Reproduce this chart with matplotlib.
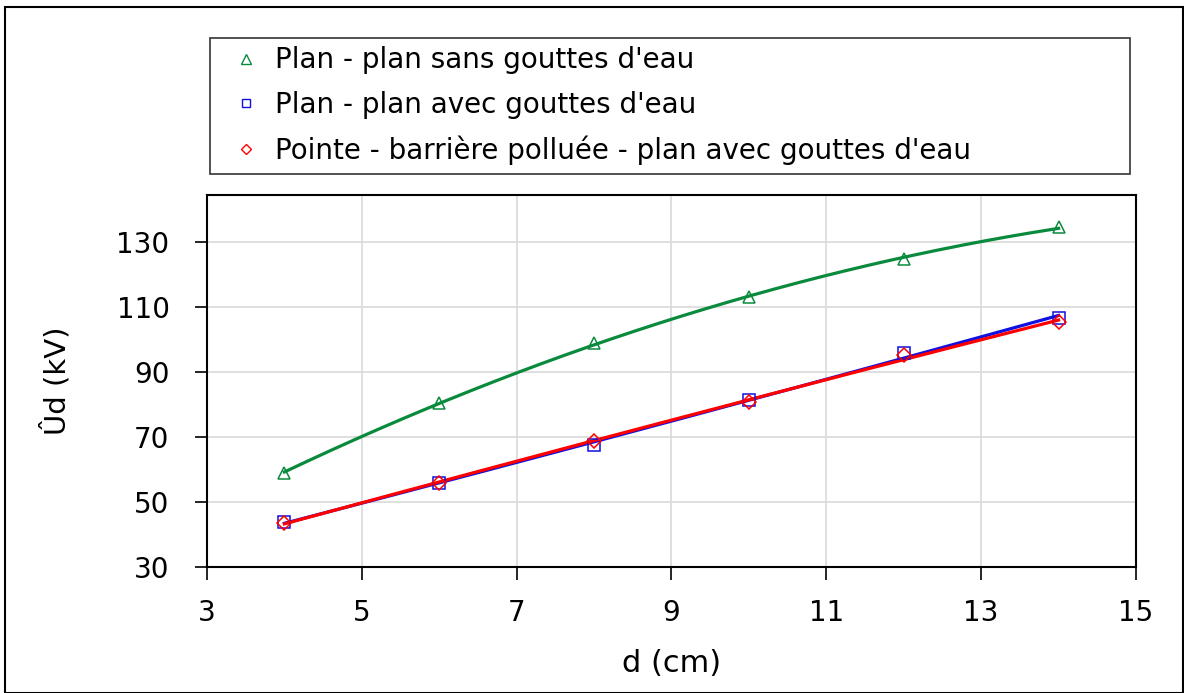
import numpy as np
import matplotlib
matplotlib.use("Agg")
import matplotlib.pyplot as plt
from matplotlib.lines import Line2D
from matplotlib.patches import Rectangle

d = [4, 6, 8, 10, 12, 14]
sans_gouttes = [59.0, 80.5, 99.0, 113.0, 124.8, 134.6]
avec_gouttes = [43.8, 55.8, 67.5, 81.4, 95.8, 106.6]
pointe_barriere = [43.5, 56.0, 68.8, 80.8, 95.2, 105.4]

labels = ["Plan - plan sans gouttes d'eau",
          "Plan - plan avec gouttes d'eau",
          "Pointe - barrière polluée - plan avec gouttes d'eau"]
colors = ["#0a8a3c", "#1010e0", "#ff0000"]
markers = ["^", "s", "D"]
msizes = [9, 8, 7]

plt.rcParams['font.family'] = ['DejaVu Sans']

fig = plt.figure(figsize=(11.84, 6.93), dpi=100)
ax = fig.add_axes([207/1184, 1 - 567/693, (1136-207)/1184, (567-195)/693])

handles = []
for y, c, m, ms, lab in zip([sans_gouttes, avec_gouttes, pointe_barriere], colors, markers, msizes, labels):
    # trend line (2nd order fit) like the original spreadsheet
    coef = np.polyfit(d, y, 2)
    xs = np.linspace(d[0], d[-1], 200)
    ax.plot(xs, np.polyval(coef, xs), color=c, lw=2.3, zorder=3)
    ax.plot(d, y, linestyle='none', marker=m, ms=ms, mfc='none', mec=c, mew=1.1, zorder=4)
    handles.append(Line2D([], [], linestyle='none', marker=m, ms=ms*0.75, mfc='none', mec=c, mew=1.0, label=lab))

ax.set_xlim(3, 15)
ax.set_ylim(30, 144.5)
ax.set_xticks([3, 5, 7, 9, 11, 13, 15])
ax.set_yticks([30, 50, 70, 90, 110, 130])
ax.grid(True, color='#d9d9d9', lw=1.2)
ax.set_axisbelow(True)
ax.tick_params(direction='out', length=9, width=1.2, labelsize=20)
ax.tick_params(axis='x', pad=14)
ax.tick_params(axis='y', pad=18)
for s in ax.spines.values():
    s.set_linewidth(1.5)
ax.set_xlabel("d (cm)", fontsize=22, labelpad=16)
ax.set_ylabel("Ûd (kV)", fontsize=21, labelpad=32)

leg = fig.legend(handles=handles, loc='upper left', mode='expand',
                 bbox_to_anchor=(210/1184, 1 - 172/693, (1130-210)/1184, (172-38)/693),
                 fontsize=20, frameon=True, fancybox=False, edgecolor='black',
                 handletextpad=0.05, borderpad=0.3, labelspacing=0.6, handlelength=2.0,
                 borderaxespad=0)
leg.get_frame().set_linewidth(1.2)

fig.patches.append(Rectangle((5/1184, 0), 1 - 5/1184 - 1/1184, 1 - 7/693, transform=fig.transFigure,
                             fill=False, edgecolor='black', lw=1.5))

fig.savefig("out.png", dpi=100)
